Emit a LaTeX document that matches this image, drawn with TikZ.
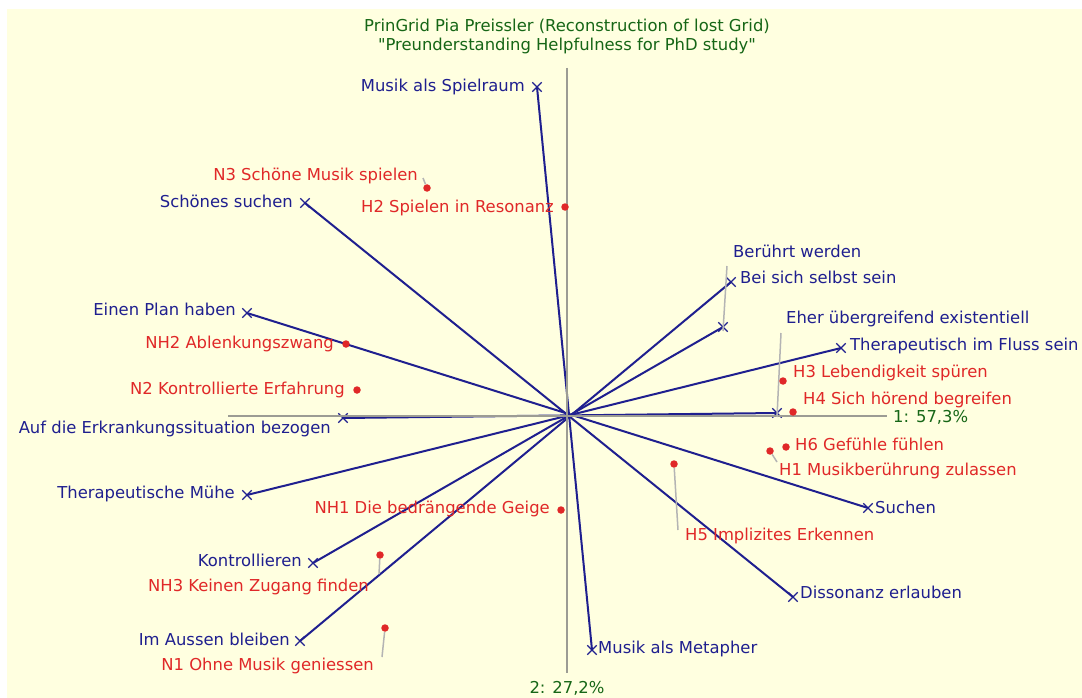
\documentclass[tikz,border=0pt]{standalone}
\usepackage{fontspec}
\setmainfont{DejaVu Sans}[Ligatures=TeXOff]
\usetikzlibrary{shapes.misc}

\definecolor{paper}{HTML}{FFFFE0}
\definecolor{polecol}{HTML}{1F1F8F}
\definecolor{elemcol}{HTML}{E02828}
\definecolor{axiscol}{HTML}{9C9C94}
\definecolor{leadcol}{HTML}{B4B4B4}
\definecolor{titlecol}{HTML}{166616}

\tikzset{
  every node/.style={font=\fontsize{16.4}{19}\selectfont, inner sep=0pt},
  polemark/.style={cross out, draw=polecol, line width=1.3pt, minimum size=8pt, inner sep=0pt},
  elemdot/.style={circle, fill=elemcol, minimum size=7.5pt, inner sep=0pt},
  textlift/.style={yshift=-3pt},
  poleL/.style={text=polecol, anchor=mid east, textlift},
  poleR/.style={text=polecol, anchor=mid west, textlift},
  elemL/.style={text=elemcol, anchor=mid east, textlift},
  elemR/.style={text=elemcol, anchor=mid west, textlift},
  construct/.style={draw=polecol, line width=2pt},
  axisline/.style={draw=axiscol, line width=2pt},
  leader/.style={draw=leadcol, line width=1.5pt},
  axislabel/.style={text=titlecol, textlift},
}

\begin{document}
\begin{tikzpicture}[x=1pt,y=-1pt]
  % canvas
  \fill[white] (0,0) rectangle (1082,698);
  \fill[paper] (7,9) rectangle (1082,698);
  \useasboundingbox (0,0) rectangle (1082,698);

  % title
  \node[text=titlecol, align=center, yshift=-2pt] (title) at (567,34)
    {PrinGrid Pia Preissler (Reconstruction of lost Grid)\\
     "Preunderstanding Helpfulness for PhD study"};

  % construct poles
  \node[polemark] (m1)  at (537,87)  {};
  \node[polemark] (m2)  at (592,650) {};
  \node[polemark] (m3)  at (305,203) {};
  \node[polemark] (m4)  at (793,597) {};
  \node[polemark] (m5)  at (247,313) {};
  \node[polemark] (m6)  at (868,508) {};
  \node[polemark] (m7)  at (343,418) {};
  \node[polemark] (m8)  at (777,413) {};
  \node[polemark] (m9)  at (841,348) {};
  \node[polemark] (m10) at (247,495) {};
  \node[polemark] (m11) at (731,282) {};
  \node[polemark] (m12) at (300,641) {};
  \node[polemark] (m13) at (723,327) {};
  \node[polemark] (m14) at (313,563) {};

  % construct lines
  \draw[construct] (m1.center) -- (m2.center);
  \draw[construct] (m3.center) -- (m4.center);
  \draw[construct] (m5.center) -- (m6.center);
  \draw[construct] (m7.center) -- (m8.center);
  \draw[construct] (m9.center) -- (m10.center);
  \draw[construct] (m11.center) -- (m12.center);
  \draw[construct] (m13.center) -- (m14.center);

  % principal axes
  \coordinate (axL) at (228,415.5);
  \coordinate (axR) at (887,415.5);
  \coordinate (axT) at (567,68);
  \coordinate (axB) at (567,673);
  \draw[axisline] (axL) -- (axR);
  \draw[axisline] (axT) -- (axB);
  \node[axislabel, anchor=mid west] (ax1) at (893,417) {1: 57,3\%};
  \node[axislabel] (ax2) at (567,685) {2: 27,2\%};

  % pole labels
  \node[poleL] (l1)  at (525,86)  {Musik als Spielraum};
  \node[poleR] (l2)  at (598,648) {Musik als Metapher};
  \node[poleL] (l3)  at (293,202) {Schönes suchen};
  \node[poleR] (l4)  at (800,593) {Dissonanz erlauben};
  \node[poleL] (l5)  at (236,310) {Einen Plan haben};
  \node[poleR] (l6)  at (875,508) {Suchen};
  \node[poleL] (l7)  at (331,428) {Auf die Erkrankungssituation bezogen};
  \node[poleR] (l8)  at (786,318) {Eher übergreifend existentiell};
  \node[poleR] (l9)  at (850,345) {Therapeutisch im Fluss sein};
  \node[poleL] (l10) at (235,493) {Therapeutische Mühe};
  \node[poleR] (l11) at (740,278) {Bei sich selbst sein};
  \node[poleL] (l12) at (290,640) {Im Aussen bleiben};
  \node[poleR] (l13) at (733,252) {Berührt werden};
  \node[poleL] (l14) at (302,561) {Kontrollieren};

  % pole leaders
  \coordinate (k8)  at (781,333);
  \coordinate (k13) at (727,266);
  \draw[leader] (k8) -- ([yshift=-4pt]m8.center);
  \draw[leader] (k13) -- ([yshift=-4pt]m13.center);

  % elements
  \node[elemdot] (e1)  at (427,188) {};
  \node[elemdot] (e2)  at (565,207) {};
  \node[elemdot] (e3)  at (346,344) {};
  \node[elemdot] (e4)  at (357,390) {};
  \node[elemdot] (e5)  at (783,381) {};
  \node[elemdot] (e6)  at (793,412) {};
  \node[elemdot] (e7)  at (786,447) {};
  \node[elemdot] (e8)  at (770,451) {};
  \node[elemdot] (e9)  at (674,464) {};
  \node[elemdot] (e10) at (561,510) {};
  \node[elemdot] (e11) at (380,555) {};
  \node[elemdot] (e12) at (385,628) {};

  % element leaders
  \coordinate (k1)  at (423,178);
  \coordinate (k8e) at (777,462);
  \coordinate (k9)  at (678,530);
  \coordinate (k11) at (379,574);
  \coordinate (k12) at (382,657);
  \draw[leader] (k1) -- (e1);
  \draw[leader] (e8) -- (k8e);
  \draw[leader] (e9) -- (k9);
  \draw[leader] (e11) -- (k11);
  \draw[leader] (e12) -- (k12);

  % element labels
  \node[elemL] (t1)  at (418,175) {N3 Schöne Musik spielen};
  \node[elemL] (t2)  at (554,207) {H2 Spielen in Resonanz};
  \node[elemL] (t3)  at (334,343) {NH2 Ablenkungszwang};
  \node[elemL] (t4)  at (345,389) {N2 Kontrollierte Erfahrung};
  \node[elemR] (t5)  at (793,372) {H3 Lebendigkeit spüren};
  \node[elemR] (t6)  at (803,399) {H4 Sich hörend begreifen};
  \node[elemR] (t7)  at (795,445) {H6 Gefühle fühlen};
  \node[elemR] (t8)  at (779,470) {H1 Musikberührung zulassen};
  \node[elemR] (t9)  at (685,535) {H5 Implizites Erkennen};
  \node[elemL] (t10) at (550,508) {NH1 Die bedrängende Geige};
  \node[elemL] (t11) at (369,586) {NH3 Keinen Zugang finden};
  \node[elemL] (t12) at (374,665) {N1 Ohne Musik geniessen};
\end{tikzpicture}
\end{document}
